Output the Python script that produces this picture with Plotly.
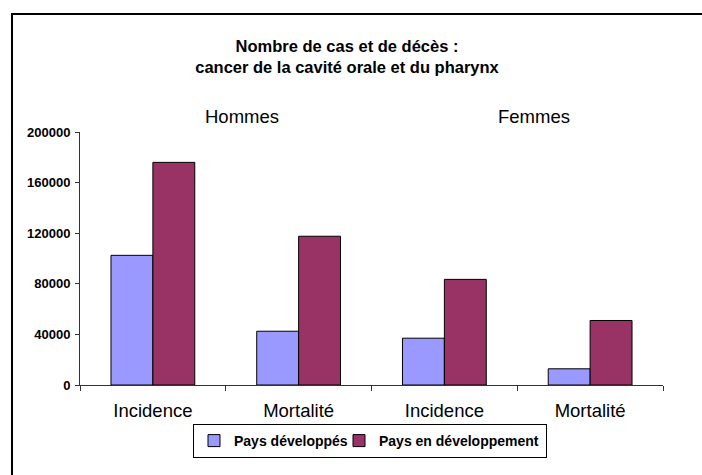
import plotly.graph_objects as go

categories = ["Incidence", "Mortalité", "Incidence", "Mortalité"]
groups = ["Hommes", "Femmes"]
developed = [102500, 42500, 37000, 12800]
developing = [176000, 117600, 83500, 51000]
series_names = ["Pays développés", "Pays en développement"]
y_ticks = [0, 40000, 80000, 120000, 160000, 200000]

FONT = "Liberation Sans, Arial, sans-serif"
W, H = 702, 475
L, R, T, B = 80, 39, 132, 90
PW, PH = W - L - R, H - T - B

def px_x(px):
    return (px - L) / PW

def px_y(py):
    return (H - B - py) / PH

xpos = list(range(len(categories)))

fig = go.Figure()
fig.add_trace(go.Bar(x=xpos, y=developed, name=series_names[0], legendwidth=100,
                     marker=dict(color="#9999FF", line=dict(color="#000000", width=1))))
fig.add_trace(go.Bar(x=xpos, y=developing, name=series_names[1], legendwidth=162,
                     marker=dict(color="#993366", line=dict(color="#000000", width=1))))

fig.update_layout(
    width=W, height=H,
    margin=dict(l=L, r=R, t=T, b=B, pad=0),
    paper_bgcolor="white", plot_bgcolor="white",
    barmode="group", bargap=0.425, bargroupgap=0,
    font=dict(family=FONT, color="#000000"),
    title=dict(text="<b>Nombre de cas et de décès :<br>cancer de la cavité orale et du pharynx</b>",
               x=347 / W, xanchor="center", xref="container",
               y=1 - 52 / H, yanchor="middle", yref="container",
               font=dict(size=16.5, family=FONT, color="#000000")),
    legend=dict(orientation="h", x=px_x(370), xanchor="center",
                y=px_y(424), yanchor="top",
                bordercolor="#000000", borderwidth=1,
                font=dict(size=14, family=FONT, color="#000000", weight="bold"),
                itemwidth=30, tracegroupgap=0),
    showlegend=True,
)

fig.update_xaxes(
    range=[-0.5, len(categories) - 0.5],
    tickmode="array", tickvals=xpos, ticktext=categories,
    ticks="", showgrid=False, zeroline=False,
    showline=True, linecolor="#333333", linewidth=1,
    tickfont=dict(size=18.5, family=FONT, color="#000000"),
    ticklabelstandoff=9,
    minor=dict(tickmode="array", tickvals=[i - 0.5 for i in range(len(categories) + 1)],
               ticks="outside", ticklen=5, tickcolor="#333333", tickwidth=1, showgrid=False),
    fixedrange=True,
)
fig.update_yaxes(
    range=[0, 200000], tickmode="array", tickvals=y_ticks,
    ticktext=[str(v) for v in y_ticks],
    ticks="outside", ticklen=4, tickcolor="#333333",
    showgrid=False, zeroline=False,
    showline=True, linecolor="#333333", linewidth=1,
    tickfont=dict(size=13, family=FONT, color="#000000", weight="bold"),
    ticklabelstandoff=2,
    fixedrange=True,
)

fig.add_annotation(text=groups[0], x=px_x(242), y=px_y(117), xref="paper", yref="paper",
                   showarrow=False, xanchor="center", yanchor="middle",
                   font=dict(size=18.5, family=FONT, color="#000000"))
fig.add_annotation(text=groups[1], x=px_x(534), y=px_y(117), xref="paper", yref="paper",
                   showarrow=False, xanchor="center", yanchor="middle",
                   font=dict(size=18.5, family=FONT, color="#000000"))

fig.add_shape(type="rect", xref="paper", yref="paper",
              x0=px_x(12), x1=px_x(720), y0=px_y(14), y1=px_y(490),
              line=dict(color="#000000", width=2), fillcolor="rgba(0,0,0,0)", layer="above")

fig.write_html("out.html", config={"displayModeBar": False, "staticPlot": False},
               post_script="document.body.style.margin='0';document.body.style.overflow='hidden';")
